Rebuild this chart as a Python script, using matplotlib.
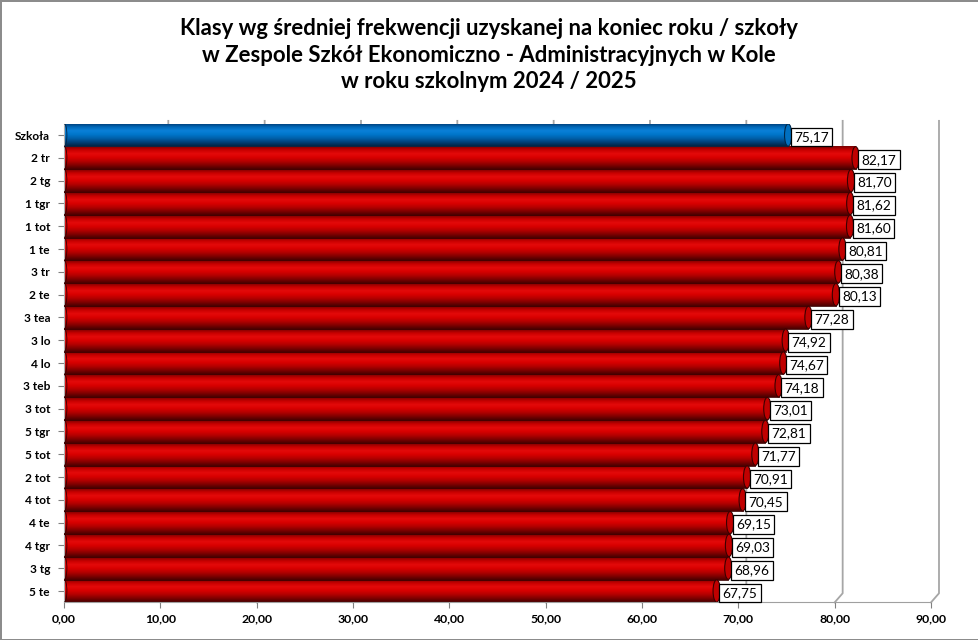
import numpy as np
import matplotlib
matplotlib.use("Agg")
import matplotlib.pyplot as plt
from matplotlib.colors import LinearSegmentedColormap
from matplotlib.patches import Ellipse

plt.rcParams['font.family'] = ['Lato', 'DejaVu Sans']

klasy = ["Szkoła", "2 tr", "2 tg", "1 tgr", "1 tot", "1 te", "3 tr", "2 te", "3 tea", "3 lo",
         "4 lo", "3 teb", "3 tot", "5 tgr", "5 tot", "2 tot", "4 tot", "4 te", "4 tgr", "3 tg", "5 te"]
frekwencja = [75.17, 82.17, 81.70, 81.62, 81.60, 80.81, 80.38, 80.13, 77.28, 74.92,
              74.67, 74.18, 73.01, 72.81, 71.77, 70.91, 70.45, 69.15, 69.03, 68.96, 67.75]
osie_x = [0, 10, 20, 30, 40, 50, 60, 70, 80, 90]

tytul = ("Klasy wg średniej frekwencji uzyskanej na koniec roku / szkoły\n"
         "w Zespole Szkół Ekonomiczno - Administracyjnych w Kole\n"
         "w roku szkolnym 2024 / 2025")

# cylinder shading (top -> bottom)
czerwony = LinearSegmentedColormap.from_list("czerwony",
    ["#7a0000", "#c80000", "#e40a0a", "#d80000", "#b40000", "#820000", "#4a0000"])
niebieski = LinearSegmentedColormap.from_list("niebieski",
    ["#003a70", "#0068b8", "#0a80d8", "#0076ca", "#0060aa", "#00427a", "#002648"])

W, H = 979, 640
fig = plt.figure(figsize=(W / 100, H / 100), dpi=100)
fig.patch.set_edgecolor("#8c8c8c")
fig.patch.set_linewidth(2)

ax = fig.add_axes([64 / W, (H - 602.4) / H, (931 - 64) / W, (602.4 - 123.6) / H])
ax.set_xlim(0, 90)
ax.set_ylim(20.5, -0.5)

y = np.arange(len(klasy))
dx = 0.83  # depth offset of back wall

# back wall gridlines
for g in osie_x[1:]:
    ax.plot([g + dx, g + dx, g], [-0.62, 20.1, 20.5], color="#a6a6a6", lw=1.3,
            zorder=1, clip_on=False)

grad = np.linspace(0, 1, 64).reshape(-1, 1)
bars = ax.barh(y, frekwencja, height=1.0, color="none", edgecolor="none", zorder=2)
for i, (b, v) in enumerate(zip(bars, frekwencja)):
    cmap = niebieski if i == 0 else czerwony
    im = ax.imshow(grad, cmap=cmap, aspect="auto", zorder=2,
                   extent=[0, v, i + 0.5, i - 0.5], origin="upper")
    im.set_clip_path(b)
    kolor_kapsla = "#0070c0" if i == 0 else "#c00000"
    krawedz = "#00284a" if i == 0 else "#3a0000"
    ax.add_patch(Ellipse((v, i), 0.75, 0.98, facecolor=kolor_kapsla,
                         edgecolor=krawedz, lw=0.8, zorder=3))
    ax.add_patch(Ellipse((0.05, i), 0.5, 0.98, facecolor="none",
                         edgecolor=krawedz, lw=0.6, zorder=3))
    ax.plot([0, v], [i + 0.5, i + 0.5], color=krawedz, lw=0.6, zorder=3)
    ax.annotate(f"{v:.2f}".replace(".", ","), (v, i), xytext=(6, -2),
                textcoords="offset pixels", ha="left", va="center", fontsize=9.8,
                bbox=dict(boxstyle="square,pad=0.25", facecolor="white",
                          edgecolor="black", lw=0.9), zorder=5)

ax.set_yticks(y)
ax.set_yticklabels(klasy, fontsize=8.6, fontweight="bold")
ax.set_xticks(osie_x)
ax.set_xticklabels([f"{t:.2f}".replace(".", ",") for t in osie_x],
                   fontsize=8.8, fontweight="bold")
ax.tick_params(axis="y", length=4, color="#808080", pad=6)
ax.tick_params(axis="x", length=4, color="#808080", pad=4)
for s in ["top", "right"]:
    ax.spines[s].set_visible(False)
ax.spines["left"].set_color("#b0b0b0")
ax.spines["bottom"].set_color("#a0a0a0")
ax.set_facecolor("none")

fig.text(489 / W, 1 - 55 / H, tytul, ha="center", va="center", fontsize=15.9,
         fontweight="bold", linespacing=1.3)

fig.savefig("out.png", dpi=100)
